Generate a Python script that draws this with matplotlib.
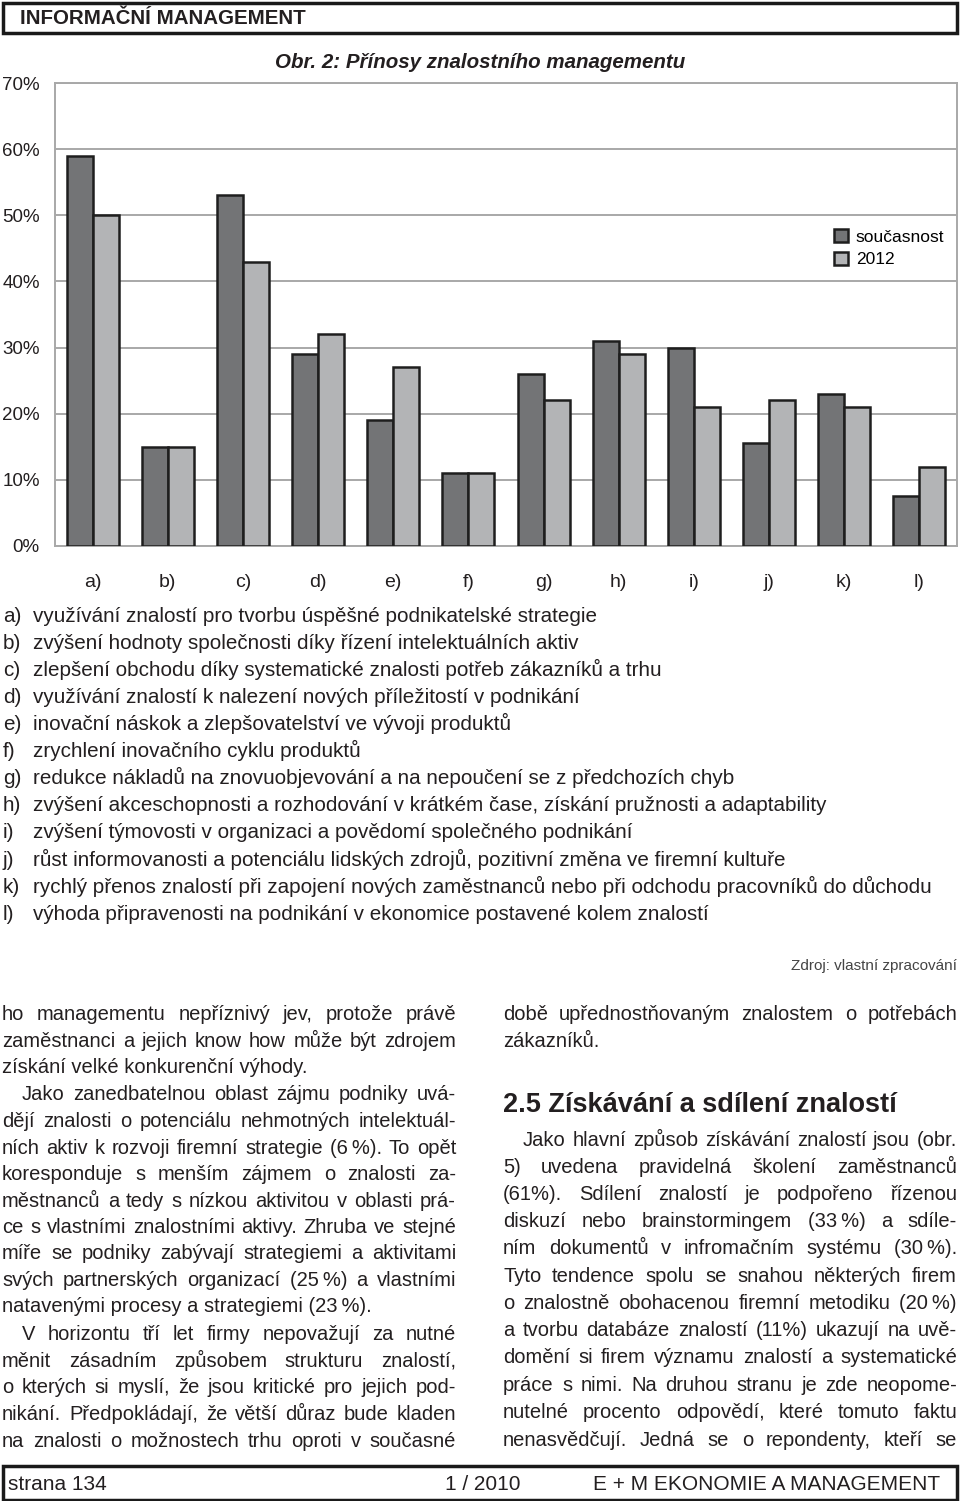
import matplotlib
matplotlib.use("Agg")
import matplotlib.pyplot as plt
import numpy as np
from matplotlib.patches import Rectangle
from matplotlib import font_manager

# hodnoty (v %)
kategorie = ["a)", "b)", "c)", "d)", "e)", "f)", "g)", "h)", "i)", "j)", "k)", "l)"]
soucasnost = [59, 15, 53, 29, 19, 11, 26, 31, 30, 15.5, 23, 7.6]
rok_2012 = [50, 15, 43, 32, 27, 11, 22, 29, 21, 22, 21, 12]
y_ticks = [0, 10, 20, 30, 40, 50, 60, 70]
nazvy_rad = ["současnost", "2012"]

popisky = [
    "využívání znalostí pro tvorbu úspěšné podnikatelské strategie",
    "zvýšení hodnoty společnosti díky řízení intelektuálních aktiv",
    "zlepšení obchodu díky systematické znalosti potřeb zákazníků a trhu",
    "využívání znalostí k nalezení nových příležitostí v podnikání",
    "inovační náskok a zlepšovatelství ve vývoji produktů",
    "zrychlení inovačního cyklu produktů",
    "redukce nákladů na znovuobjevování a na nepoučení se z předchozích chyb",
    "zvýšení akceschopnosti a rozhodování v krátkém čase, získání pružnosti a adaptability",
    "zvýšení týmovosti v organizaci a povědomí společného podnikání",
    "růst informovanosti a potenciálu lidských zdrojů, pozitivní změna ve firemní kultuře",
    "rychlý přenos znalostí při zapojení nových zaměstnanců nebo při odchodu pracovníků do důchodu",
    "výhoda připravenosti na podnikání v ekonomice postavené kolem znalostí",
]

# (text, zarovnat do bloku, odsazeni)
levy_sloupec = [
    ("ho managementu nepříznivý jev, protože právě", True, 0),
    ("zaměstnanci a jejich know how může být zdrojem", True, 0),
    ("získání velké konkurenční výhody.", False, 0),
    ("Jako zanedbatelnou oblast zájmu podniky uvá-", True, 20),
    ("dějí znalosti o potenciálu nehmotných intelektuál-", True, 0),
    ("ních aktiv k rozvoji firemní strategie (6\u2009%). To opět", True, 0),
    ("koresponduje s menším zájmem o znalosti za-", True, 0),
    ("městnanců a tedy s nízkou aktivitou v oblasti prá-", True, 0),
    ("ce s vlastními znalostními aktivy. Zhruba ve stejné", True, 0),
    ("míře se podniky zabývají strategiemi a aktivitami", True, 0),
    ("svých partnerských organizací (25\u2009%) a vlastními", True, 0),
    ("natavenými procesy a strategiemi (23\u2009%).", False, 0),
    ("V horizontu tří let firmy nepovažují za nutné", True, 20),
    ("měnit zásadním způsobem strukturu znalostí,", True, 0),
    ("o kterých si myslí, že jsou kritické pro jejich pod-", True, 0),
    ("nikání. Předpokládají, že větší důraz bude kladen", True, 0),
    ("na znalosti o možnostech trhu oproti v současné", True, 0),
]
levy_y = [1013, 1040, 1066, 1093, 1120, 1147, 1173, 1200, 1226, 1252, 1279, 1305,
          1333, 1360, 1386, 1413, 1440]

pravy_sloupec = [
    ("době upřednostňovaným znalostem o potřebách", True, 0),
    ("zákazníků.", False, 0),
    ("Jako hlavní způsob získávání znalostí jsou (obr.", True, 20),
    ("5) uvedena pravidelná školení zaměstnanců", True, 0),
    ("(61%). Sdílení znalostí je podpořeno řízenou", True, 0),
    ("diskuzí nebo brainstormingem (33\u2009%) a sdíle-", True, 0),
    ("ním dokumentů v infromačním systému (30\u2009%).", True, 0),
    ("Tyto tendence spolu se snahou některých firem", True, 0),
    ("o znalostně obohacenou firemní metodiku (20\u2009%)", True, 0),
    ("a tvorbu databáze znalostí (11%) ukazují na uvě-", True, 0),
    ("domění si firem významu znalostí a systematické", True, 0),
    ("práce s nimi. Na druhou stranu je zde neopome-", True, 0),
    ("nutelné procento odpovědí, které tomuto faktu", True, 0),
    ("nenasvědčují. Jedná se o repondenty, kteří se", True, 0),
]
pravy_y = [1013, 1040, 1139, 1166, 1193, 1220, 1247, 1275, 1302, 1329, 1356, 1384,
           1411, 1439]

W, H = 960, 1501
jmena = {f.name for f in font_manager.fontManager.ttflist}
SANS = "Liberation Sans"
NARROW = "Liberation Sans Narrow" if "Liberation Sans Narrow" in jmena else SANS
TEXT = "#231f20"

fig = plt.figure(figsize=(W / 100, H / 100), dpi=100)
fig.patch.set_facecolor("white")
renderer = fig.canvas.get_renderer()


def px(x, y):
    return x / W, 1 - y / H


def radek(x0, x1, y, text, justify=True, size=14.5, family=SANS, weight="normal",
          color=TEXT):
    # y je stred radku, pisu na uctari
    yb = y + size * 0.45
    fam = [family, "DejaVu Sans"]
    slova = text.split(" ")
    if not justify or len(slova) == 1:
        fig.text(*px(x0, yb), text, ha="left", va="baseline", size=size,
                 family=fam, weight=weight, color=color)
        return
    objs = [fig.text(0, 0, s, ha="left", va="baseline", size=size, family=fam,
                     weight=weight, color=color) for s in slova]
    sirky = [o.get_window_extent(renderer).width for o in objs]
    mezera = (x1 - x0 - sum(sirky)) / (len(slova) - 1)
    if mezera < 4:
        # radek se nevejde, zmensim pismo
        k = (x1 - x0 - 4 * (len(slova) - 1)) / sum(sirky)
        for o in objs:
            o.set_fontsize(size * k)
        sirky = [s * k for s in sirky]
        mezera = 4
    x = x0
    for o, s in zip(objs, sirky):
        o.set_position(px(x, yb))
        x += s + mezera


# zahlavi
fig.patches.append(Rectangle(px(3, 33), 954 / W, 30 / H, transform=fig.transFigure,
                             fill=False, lw=2.5, ec="#1a1a1a"))
fig.text(*px(20, 18), "INFORMAČNÍ MANAGEMENT", ha="left", va="center", size=14.8,
         weight="bold", family=SANS, color=TEXT)
fig.text(*px(480, 62), "Obr. 2: Přínosy znalostního managementu", ha="center",
         va="center", size=14.8, weight="bold", style="italic", family=SANS, color=TEXT)

# graf
ax = fig.add_axes([55 / W, 1 - 546 / H, 902 / W, 463 / H])
x = np.arange(len(kategorie))
bw = 0.345
ax.bar(x - bw / 2, soucasnost, bw, color="#737476", edgecolor="#1e1e1e",
       linewidth=1.8, label=nazvy_rad[0], zorder=3)
ax.bar(x + bw / 2, rok_2012, bw, color="#b3b4b6", edgecolor="#1e1e1e",
       linewidth=1.8, label=nazvy_rad[1], zorder=3)
ax.set_xlim(-0.5, len(kategorie) - 0.5)
ax.set_ylim(0, 70)
ax.set_xticks(x)
ax.set_xticklabels(kategorie, family=[SANS, "DejaVu Sans"], size=14, color=TEXT)
ax.set_yticks(y_ticks)
ax.set_yticklabels([f"{v}%" for v in y_ticks], family=[SANS, "DejaVu Sans"],
                   size=13.5, color=TEXT)
ax.yaxis.grid(True, color="#a8a8a8", linewidth=1.4, zorder=0)
for s in ax.spines.values():
    s.set_color("#a8a8a8")
    s.set_linewidth(1.4)
ax.tick_params(length=0)
ax.tick_params(axis="y", pad=11)
ax.tick_params(axis="x", pad=20)
ax.legend(loc="upper left", bbox_to_anchor=((834 - 55) / 902, 1 - (229 - 83) / 463),
          frameon=False, borderpad=0, borderaxespad=0, handlelength=0.8,
          handleheight=0.8, handletextpad=0.45, labelspacing=0.4,
          prop={"family": SANS, "size": 12.5})

# vysvetlivky
for i, (k, p) in enumerate(zip(kategorie, popisky)):
    y = 615 + 27.1 * i
    radek(3, 0, y, k, justify=False, size=14.85)
    radek(33, 0, y, p, justify=False, size=14.85)

fig.text(*px(957, 966), "Zdroj: vlastní zpracování", ha="right", va="center",
         size=11, family=NARROW, color="#444444")

# text clanku
for (t, j, odsaz), y in zip(levy_sloupec, levy_y):
    radek(2 + odsaz, 456, y, t, justify=j)
for (t, j, odsaz), y in zip(pravy_sloupec, pravy_y):
    radek(503 + odsaz, 957, y, t, justify=j)
radek(503, 0, 1103, "2.5 Získávání a sdílení znalostí", justify=False, size=19.5,
      weight="bold")

# zapati
fig.patches.append(Rectangle(px(3, 1500), 954 / W, 34 / H, transform=fig.transFigure,
                             fill=False, lw=2.5, ec="#1a1a1a"))
fig.text(*px(8, 1484), "strana 134", ha="left", va="center", size=15, family=NARROW,
         color=TEXT)
fig.text(*px(483, 1484), "1 / 2010", ha="center", va="center", size=15,
         family=NARROW, color=TEXT)
fig.text(*px(940, 1484), "E + M EKONOMIE A MANAGEMENT", ha="right", va="center",
         size=15, family=NARROW, color=TEXT)

fig.savefig("out.png", dpi=100)
